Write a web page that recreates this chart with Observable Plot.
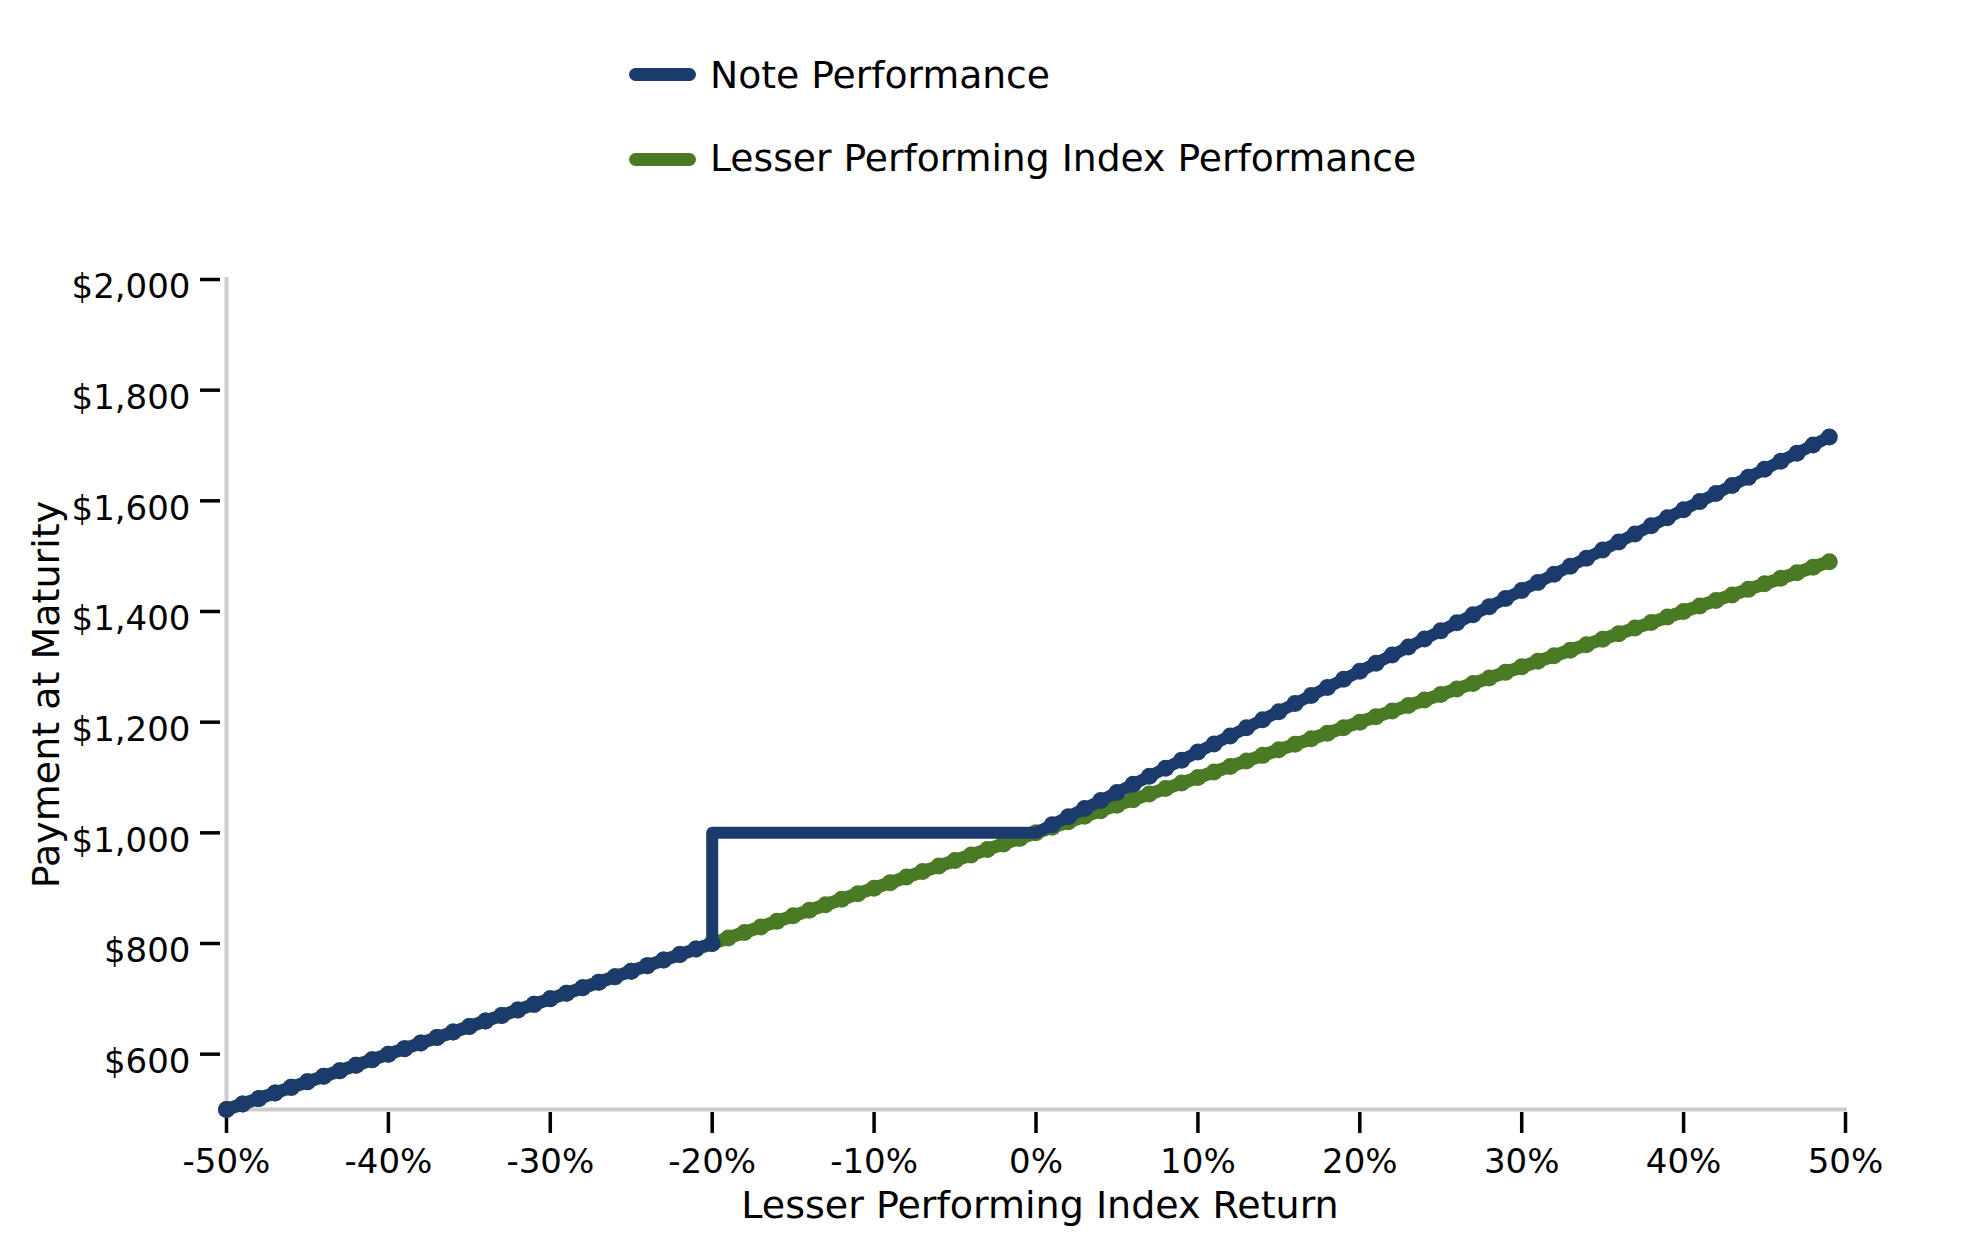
<!DOCTYPE html>
<html>
<head>
<meta charset="utf-8">
<script src="https://cdn.jsdelivr.net/npm/d3@7"></script>
<script src="https://cdn.jsdelivr.net/npm/@observablehq/plot@0.6"></script>
<style>
  html, body { margin: 0; padding: 0; background: #fff; }
  #wrap { position: relative; width: 1979px; height: 1250px; font-family: "DejaVu Sans", sans-serif; }
  #legend { position: relative; width: 1979px; height: 200px; }
  .sw { position: absolute; left: 629px; width: 67px; height: 13px; border-radius: 6.5px; }
  .lt { position: absolute; left: 710px; font-size: 37.7px; line-height: 37.7px; color: #000; white-space: nowrap; }
  #chart svg { display: block; }
</style>
</head>
<body>
<div id="wrap">
  <div id="legend"></div>
  <div id="chart"></div>
</div>
<script>
// ---- data ----
const seriesNames = ["Note Performance", "Lesser Performing Index Performance"];
const seriesColors = ["#1c3b6d", "#4a7a24"];

const indexReturn = [-50,-49,-48,-47,-46,-45,-44,-43,-42,-41,-40,-39,-38,-37,-36,-35,-34,-33,-32,-31,
  -30,-29,-28,-27,-26,-25,-24,-23,-22,-21,-20,-19,-18,-17,-16,-15,-14,-13,-12,-11,
  -10,-9,-8,-7,-6,-5,-4,-3,-2,-1,0,1,2,3,4,5,6,7,8,9,
  10,11,12,13,14,15,16,17,18,19,20,21,22,23,24,25,26,27,28,29,
  30,31,32,33,34,35,36,37,38,39,40,41,42,43,44,45,46,47,48,49];

const indexPayment = [500,510,520,530,540,550,560,570,580,590,600,610,620,630,640,650,660,670,680,690,
  700,710,720,730,740,750,760,770,780,790,800,810,820,830,840,850,860,870,880,890,
  900,910,920,930,940,950,960,970,980,990,1000,1010,1020,1030,1040,1050,1060,1070,1080,1090,
  1100,1110,1120,1130,1140,1150,1160,1170,1180,1190,1200,1210,1220,1230,1240,1250,1260,1270,1280,1290,
  1300,1310,1320,1330,1340,1350,1360,1370,1380,1390,1400,1410,1420,1430,1440,1450,1460,1470,1480,1490];

const noteReturn = [-50,-49,-48,-47,-46,-45,-44,-43,-42,-41,-40,-39,-38,-37,-36,-35,-34,-33,-32,-31,
  -30,-29,-28,-27,-26,-25,-24,-23,-22,-21,-20,-20,-19,-18,-17,-16,-15,-14,-13,-12,-11,
  -10,-9,-8,-7,-6,-5,-4,-3,-2,-1,0,1,2,3,4,5,6,7,8,9,
  10,11,12,13,14,15,16,17,18,19,20,21,22,23,24,25,26,27,28,29,
  30,31,32,33,34,35,36,37,38,39,40,41,42,43,44,45,46,47,48,49];

const notePayment = [500,510,520,530,540,550,560,570,580,590,600,610,620,630,640,650,660,670,680,690,
  700,710,720,730,740,750,760,770,780,790,800,1000,1000,1000,1000,1000,1000,1000,1000,1000,1000,
  1000,1000,1000,1000,1000,1000,1000,1000,1000,1000,1000,1014.6,1029.2,1043.8,1058.4,1073,1087.6,1102.2,1116.8,1131.4,
  1146,1160.6,1175.2,1189.8,1204.4,1219,1233.6,1248.2,1262.8,1277.4,1292,1306.6,1321.2,1335.8,1350.4,1365,1379.6,1394.2,1408.8,1423.4,
  1438,1452.6,1467.2,1481.8,1496.4,1511,1525.6,1540.2,1554.8,1569.4,1584,1598.6,1613.2,1627.8,1642.4,1657,1671.6,1686.2,1700.8,1715.4];

const xTicks = [-50,-40,-30,-20,-10,0,10,20,30,40,50];
const yTicks = [600,800,1000,1200,1400,1600,1800,2000];
const xTitle = "Lesser Performing Index Return";
const yTitle = "Payment at Maturity";

// ---- legend (HTML, above the SVG) ----
const legend = document.getElementById("legend");
const legendRows = [{sw: 68, txt: 57.2}, {sw: 153, txt: 140.2}];
seriesNames.forEach((name, i) => {
  const sw = document.createElement("div");
  sw.className = "sw";
  sw.style.top = legendRows[i].sw + "px";
  sw.style.background = seriesColors[i];
  legend.appendChild(sw);
  const t = document.createElement("div");
  t.className = "lt";
  t.style.top = legendRows[i].txt + "px";
  t.textContent = name;
  legend.appendChild(t);
});

// ---- tables ----
const indexData = indexReturn.map((x, i) => ({x, y: indexPayment[i]}));
const noteData = noteReturn.map((x, i) => ({x, y: notePayment[i]}));
const noteDots = noteData.filter(d => d.y !== 1000);

const axisGray = "#c9cdd2";
const chart = Plot.plot({
  width: 1979,
  height: 1050,
  marginTop: 79,
  marginBottom: 141,
  marginLeft: 226,
  marginRight: 134,
  x: {domain: [-50, 50]},
  y: {domain: [500, 2000]},
  style: {fontFamily: "DejaVu Sans", fontSize: "34px", color: "#000", background: "#fff", overflow: "visible"},
  marks: [
    Plot.ruleX([-50], {y1: 500, y2: 2000, stroke: axisGray, strokeWidth: 4, strokeLinecap: "square"}),
    Plot.ruleY([500], {x1: -50, x2: 50, stroke: axisGray, strokeWidth: 4, strokeLinecap: "square"}),
    Plot.axisY({ticks: yTicks, tickSize: 20, dx: -6, strokeWidth: 3.5, stroke: "#000", fill: "none", label: null}),
    Plot.axisY({ticks: yTicks, tickSize: 0, tickPadding: 36, dy: 8, tickFormat: d3.format("$,"), fontSize: 34, fill: "#000", label: null}),
    Plot.axisX({ticks: xTicks, tickSize: 21, dy: 3, strokeWidth: 3.5, stroke: "#000", fill: "none", label: null}),
    Plot.axisX({ticks: xTicks, tickSize: 0, tickPadding: 39, tickFormat: d => `${d}%`, fontSize: 34, fill: "#000", label: null}),
    Plot.line(indexData, {x: "x", y: "y", stroke: seriesColors[1], strokeWidth: 13, strokeLinejoin: "round", strokeLinecap: "round"}),
    Plot.dot(indexData, {x: "x", y: "y", r: 8.5, fill: seriesColors[1], stroke: null}),
    Plot.line(noteData, {x: "x", y: "y", stroke: seriesColors[0], strokeWidth: 12, strokeLinejoin: "round", strokeLinecap: "round"}),
    Plot.dot(noteDots, {x: "x", y: "y", r: 8.5, fill: seriesColors[0], stroke: null}),
    Plot.text([xTitle], {frameAnchor: "bottom", dy: 108, dx: 4, fontSize: 38, fill: "#000"}),
    Plot.text([yTitle], {frameAnchor: "left", textAnchor: "middle", lineAnchor: "middle", rotate: -90, dx: -180, fontSize: 38, fill: "#000"})
  ]
});
document.getElementById("chart").appendChild(chart);
</script>
</body>
</html>
